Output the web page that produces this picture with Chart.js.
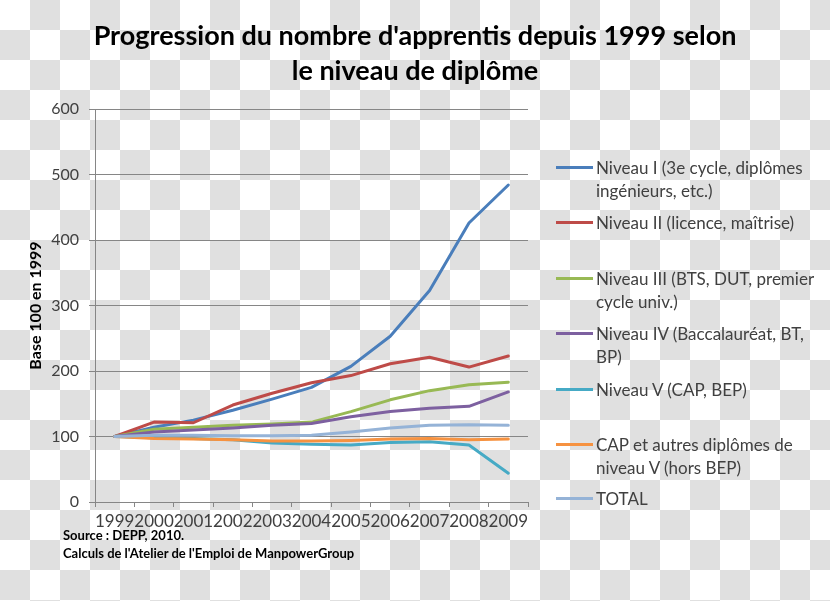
<!DOCTYPE html>
<html>
<head>
<meta charset="utf-8">
<script src="https://cdn.jsdelivr.net/npm/chart.js@4"></script>
<style>
  html,body{margin:0;padding:0;}
  body{width:830px;height:601px;position:relative;overflow:hidden;font-family:Lato,"Open Sans",sans-serif;
    background:repeating-conic-gradient(#e0e0e0 0 25%,#fff 0 50%) 0 0/60px 60px;}
  #chart{position:absolute;left:0;top:0;}
  .title{position:absolute;left:0;width:830px;text-align:center;font-weight:bold;font-size:27px;color:#000;line-height:35px;top:17px;}
  .leg{position:absolute;left:596px;font-size:17px;line-height:23px;color:#404040;white-space:nowrap;}
  .leg i{position:absolute;left:-40px;top:10px;width:37px;height:3px;}
  .src{position:absolute;left:63px;top:526px;font-size:13px;font-weight:bold;color:#000;line-height:18px;}
</style>
</head>
<body>
<canvas id="chart" width="830" height="601"></canvas>
<div class="title">Progression du nombre d'apprentis depuis 1999 selon<br>le niveau de diplôme</div>
<div id="legend"></div>
<div class="src">Source : DEPP, 2010.<br>Calculs de l'Atelier de l'Emploi de ManpowerGroup</div>
<script>
const YEARS = ['1999','2000','2001','2002','2003','2004','2005','2006','2007','2008','2009'];
const NIVEAU_I   = [100,114,125,140,157,175,207,253,323,426,484];
const NIVEAU_II  = [100,122,121,148,166,182,193,211,221,206,223];
const NIVEAU_III = [100,111,114,117,119,122,138,156,170,179,183];
const NIVEAU_IV  = [100,107,110,113,117,120,130,138,143,146,168];
const NIVEAU_V   = [100,98,97,95,90,88,87,91,92,87,44];
const CAP_AUTRES = [100,97,96,95,93,93,94,96,97,95,96];
const TOTAL      = [100,102,102,101,101,102,107,113,117,118,117];

const SERIES = [
  {label:['Niveau I (3e cycle, diplômes','ingénieurs, etc.)'],data:NIVEAU_I,color:'#4A7EBB',y:167},
  {label:['Niveau II (licence, maîtrise)'],data:NIVEAU_II,color:'#BE4B48',y:222},
  {label:['Niveau III (BTS, DUT, premier','cycle univ.)'],data:NIVEAU_III,color:'#98B954',y:278},
  {label:['Niveau IV (Baccalauréat, BT,','BP)'],data:NIVEAU_IV,color:'#7D60A0',y:333},
  {label:['Niveau V (CAP, BEP)'],data:NIVEAU_V,color:'#46AAC5',y:389},
  {label:['CAP et autres diplômes de','niveau V (hors BEP)'],data:CAP_AUTRES,color:'#F69240',y:444},
  {label:['TOTAL'],data:TOTAL,color:'#95B3D7',y:498},
];

const legEl = document.getElementById('legend');
SERIES.forEach(s=>{
  legEl.innerHTML += `<div class="leg" style="top:${s.y-11.5}px"><i style="background:${s.color}"></i>${s.label.join('<br>')}</div>`;
});

const GRID = '#868686';
new Chart(document.getElementById('chart'),{
  type:'line',
  data:{labels:YEARS,
    datasets:SERIES.map((s,i)=>({label:s.label.join(' '),data:s.data,borderColor:s.color,backgroundColor:s.color,
      borderWidth:3,pointRadius:0,tension:0,borderJoinStyle:'round',borderCapStyle:'round',order:SERIES.length-i}))},
  options:{responsive:false,animation:false,devicePixelRatio:1,
    layout:{padding:{left:0,top:109,right:302,bottom:59}},
    plugins:{legend:{display:false},tooltip:{enabled:false}},
    scales:{
      x:{offset:true,
        grid:{offset:true,drawOnChartArea:false,drawTicks:true,tickLength:5,color:GRID},
        border:{color:GRID},
        ticks:{autoSkip:false,maxRotation:0,padding:4,color:'#404040',font:{family:'Lato',size:17}},
        afterFit:s=>{s.height=40;}},
      y:{min:0,max:600,
        grid:{color:GRID,tickLength:6},
        border:{color:GRID},
        ticks:{stepSize:100,padding:10,color:'#404040',font:{family:'Lato',size:16}},
        title:{display:true,text:'Base 100 en 1999',color:'#000',font:{family:'Lato',size:16,weight:'bold'},padding:{top:26,bottom:0}},
        afterFit:s=>{s.width=95;}}
    }}
});
</script>
</body>
</html>
